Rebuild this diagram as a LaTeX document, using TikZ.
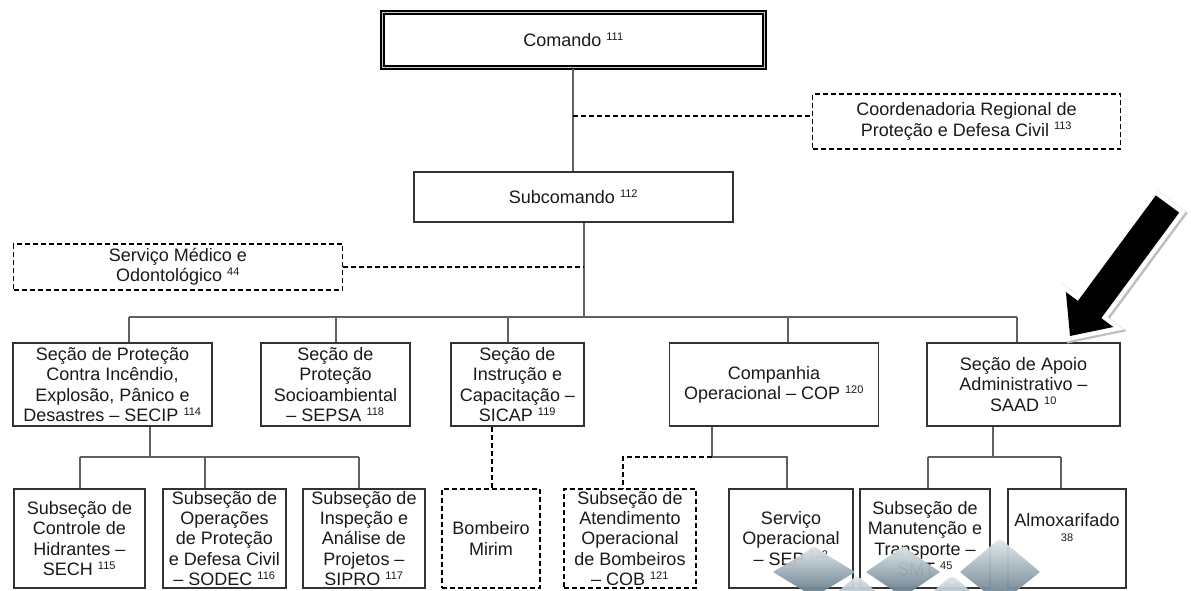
\documentclass[tikz,border=0pt]{standalone}
\usepackage{fontspec}
\setmainfont{Liberation Sans}
\usetikzlibrary{calc}
\definecolor{boxc}{HTML}{333333}
\definecolor{linec}{HTML}{606060}
\definecolor{textc}{HTML}{1A1A1A}
\definecolor{gemlight}{HTML}{E3EAEE}
\definecolor{gemdark}{HTML}{5A7282}
\newcommand\supn[1]{\textsuperscript{\fontsize{11}{11}\selectfont #1}}
\newcommand\fs{\fontsize{18}{20.3}\selectfont}
\newcommand\gem[4]{%
  \shade[top color=gemlight, bottom color=gemdark, opacity=0.95]
    (#1-#3,#2) -- (#1-8,#2-#4+5) .. controls (#1,#2-#4-2) .. (#1+8,#2-#4+5)
    -- (#1+#3,#2) -- (#1,#2+#4) -- cycle;}
\tikzset{
  box/.style={draw=boxc, line width=1.3pt, fill=white, align=center, inner sep=0pt, font=\fs, text=textc},
  dbox/.style={box, draw=black, line width=1.8pt, dash pattern=on 5pt off 3pt},
  conn/.style={draw=linec, line width=1.2pt},
  dconn/.style={draw=black, line width=1.8pt, dash pattern=on 5pt off 3pt},
}
\begin{document}
\begin{tikzpicture}[x=1pt, y=-1pt]
\useasboundingbox (0,0) rectangle (1191,590);
\clip (0,0) rectangle (1191,590);
\fill[white] (0,0) rectangle (1191,590);

% top levels
\node[box, draw=black, line width=2pt, double=gray!40, double distance=1pt,
      minimum width=382, minimum height=55] (com) at (573.5,40) {Comando \supn{111}};
\node[dbox, minimum width=308, minimum height=55] (crp) at (966.5,121.5)
  {Coordenadoria Regional de\\Proteção e Defesa Civil \supn{113}};
\node[box, minimum width=319, minimum height=50] (sub) at (573.5,197) {Subcomando \supn{112}};
\node[dbox, minimum width=329, minimum height=46] (smo) at (178,267)
  {Serviço Médico e\\Odontológico \supn{44}};

% second level
\node[box, minimum width=199, minimum height=83] (secip) at (112.5,384.5)
  {Seção de Proteção\\Contra Incêndio,\\Explosão, Pânico e\\Desastres – SECIP \supn{114}};
\node[box, minimum width=149, minimum height=83] (sepsa) at (335.5,384.5)
  {Seção de\\Proteção\\Socioambiental\\– SEPSA \supn{118}};
\node[box, minimum width=133, minimum height=83] (sicap) at (517.5,384.5)
  {Seção de\\Instrução e\\Capacitação –\\SICAP \supn{119}};
\node[box, minimum width=209, minimum height=83] (cop) at (774,384.5)
  {Companhia\\Operacional – COP \supn{120}};
\node[box, minimum width=193, minimum height=83] (saad) at (1023.5,384.5)
  {Seção de Apoio\\Administrativo –\\SAAD \supn{10}};

% third level
\node[box, minimum width=131, minimum height=99] (sech) at (79.5,538.5)
  {Subseção de\\Controle de\\Hidrantes –\\SECH \supn{115}};
\node[box, minimum width=123, minimum height=99] (sodec) at (224.5,538.5)
  {Subseção de\\Operações\\de Proteção\\e Defesa Civil\\– SODEC \supn{116}};
\node[box, minimum width=122, minimum height=99] (sipro) at (364,538.5)
  {Subseção de\\Inspeção e\\Análise de\\Projetos –\\SIPRO \supn{117}};
\node[dbox, minimum width=98, minimum height=99] (bom) at (491,538.5)
  {Bombeiro\\Mirim};
\node[dbox, minimum width=132, minimum height=99] (cob) at (630,538.5)
  {Subseção de\\Atendimento\\Operacional\\de Bombeiros\\– COB \supn{121}};
\node[box, minimum width=124, minimum height=99] (sep) at (791,538.5)
  {Serviço\\Operacional\\– SEP \supn{122}};
\node[box, minimum width=130, minimum height=99] (smt) at (925,538.5)
  {Subseção de\\Manutenção e\\Transporte –\\SMT \supn{45}};
\node[box, minimum width=118, minimum height=99] (alm) at (1067,538.5)
  {Almoxarifado\\[-5pt]{\fontsize{11}{11}\selectfont 38}\\[2pt]};

% connectors: top
\coordinate (cv) at (573,116);
\draw[conn] (com.south -| cv) -- (cv |- sub.north);
\draw[dconn] (cv) -- (cv -| crp.west);
\coordinate (bus) at (584,317);
\draw[conn] (sub.south -| bus) -- (bus);
\draw[dconn] (smo.east) -- (smo.east -| bus);

% main bus
\coordinate (b1) at (129,317);
\coordinate (b2) at (336,317);
\coordinate (b3) at (508,317);
\coordinate (b4) at (788,317);
\coordinate (b5) at (1017,317);
\draw[conn] (b1) -- (b5);
\foreach \b/\n in {b1/secip, b2/sepsa, b3/sicap, b4/cop, b5/saad}
  \draw[conn] (\b) -- (\b |- \n.north);

% SECIP subtree
\coordinate (s0) at (150,457);
\coordinate (s1) at (80,457);
\coordinate (s2) at (205,457);
\coordinate (s3) at (359,457);
\draw[conn] (secip.south -| s0) -- (s0);
\draw[conn] (s1) -- (s3);
\draw[conn] (s1) -- (s1 |- sech.north);
\draw[conn] (s2) -- (s2 |- sodec.north);
\draw[conn] (s3) -- (s3 |- sipro.north);

% SICAP subtree
\coordinate (i0) at (492,457);
\draw[dconn] (sicap.south -| i0) -- (i0 |- bom.north);

% COP subtree
\coordinate (k0) at (712,457);
\coordinate (k1) at (623,457);
\coordinate (k2) at (787,457);
\draw[conn] (cop.south -| k0) -- (k0) -- (k2) -- (k2 |- sep.north);
\draw[dconn] (k0) -- (k1) -- (k1 |- cob.north);

% SAAD subtree
\coordinate (a0) at (993,457);
\coordinate (a1) at (928,457);
\coordinate (a2) at (1061,457);
\draw[conn] (saad.south -| a0) -- (a0);
\draw[conn] (a1) -- (a2);
\draw[conn] (a1) -- (a1 |- smt.north);
\draw[conn] (a2) -- (a2 |- alm.north);

% big arrow
\def\arrowpath{(1155.8,195.4) -- (1179.2,212.6) -- (1101.3,318.1) -- (1113.3,327.0) -- (1070,336) -- (1065.9,292.0) -- (1077.9,300.9) -- cycle}
\draw[gray!50, line width=10pt, line join=miter, miter limit=3, shift={(1.5,1.5)}] \arrowpath;
\draw[white, line width=9pt, line join=miter, miter limit=3] \arrowpath;
\fill[black] \arrowpath;

% decorative gems
\gem{814}{572}{41}{25}
\gem{903}{572}{37}{25}
\gem{1000}{572}{40}{32}
\gem{857}{603}{32}{26}
\gem{952}{603}{32}{26}
\end{tikzpicture}
\end{document}
